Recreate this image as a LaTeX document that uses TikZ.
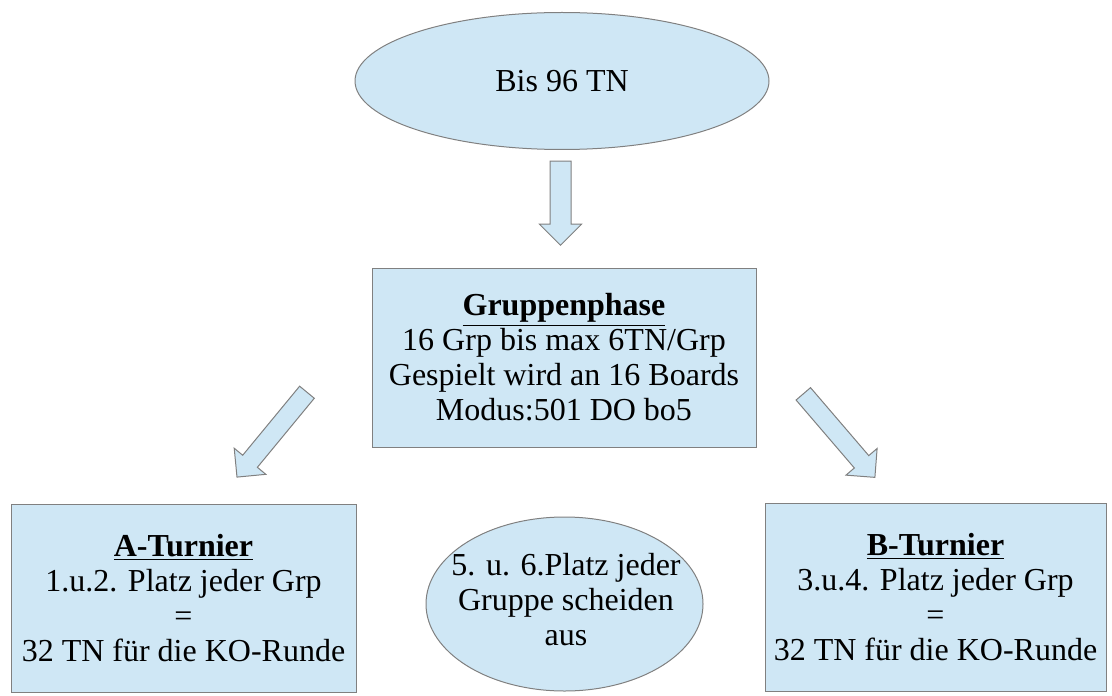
\documentclass[tikz,border=0pt]{standalone}
\usepackage{fontspec}
\setmainfont{Liberation Serif}
\usetikzlibrary{shapes.geometric, shapes.arrows}
\definecolor{boxblue}{RGB}{207,231,245}
\definecolor{boxline}{RGB}{128,128,128}

\begin{document}
\begin{tikzpicture}[x=0.5pt, y=-0.5pt,
    every node/.style={align=center, font=\fontsize{16}{17.5}\selectfont, inner sep=0pt},
    stage/.style={fill=boxblue, draw=boxline, line width=0.5pt},
    oval/.style={stage, ellipse},
    infobox/.style={stage, rectangle},
    blockarrow/.style={stage, single arrow, inner xsep=0pt, inner ysep=5pt, single arrow head extend=5.25pt}]
  \useasboundingbox (0, 0) rectangle (1112, 695);

  \node[oval, minimum width=207pt, minimum height=68.5pt] (start) at (562, 81) {Bis 96 TN};
  \node[infobox, minimum width=192pt, minimum height=89.5pt] (gruppe) at (564, 357.5)
    {\underline{\textbf{Gruppenphase}}\\16 Grp bis max 6TN/Grp\\Gespielt wird an 16 Boards\\Modus:501 DO bo5};

  \node[infobox, minimum width=172.5pt, minimum height=94pt] (aturnier) at (183.5, 598)
    {\underline{\textbf{A-Turnier}}\\1.u.2. Platz jeder Grp\\=\\32 TN für die KO-Runde};
  \node[oval, minimum width=138.5pt, minimum height=87pt] (raus) at (564.5, 604) {};
  \node (raustext) at (566, 600) {5. u. 6.Platz jeder\\Gruppe scheiden\\aus};
  \node[infobox, minimum width=170.5pt, minimum height=94pt] (bturnier) at (935.5, 597)
    {\underline{\textbf{B-Turnier}}\\3.u.4. Platz jeder Grp\\=\\32 TN für die KO-Runde};

  % block arrows between the stages
  \node[blockarrow, minimum height=42pt, rotate=-90] (pfeilmitte) at (560.5, 198) {};
  \node[blockarrow, minimum height=55pt, inner ysep=4.5pt, single arrow head extend=5.5pt, rotate=230.5] (pfeillinks) at (275, 431) {};
  \node[blockarrow, minimum height=55pt, inner ysep=4.5pt, single arrow head extend=5.5pt, rotate=-49.4] (pfeilrechts) at (836, 432) {};
\end{tikzpicture}
\end{document}
